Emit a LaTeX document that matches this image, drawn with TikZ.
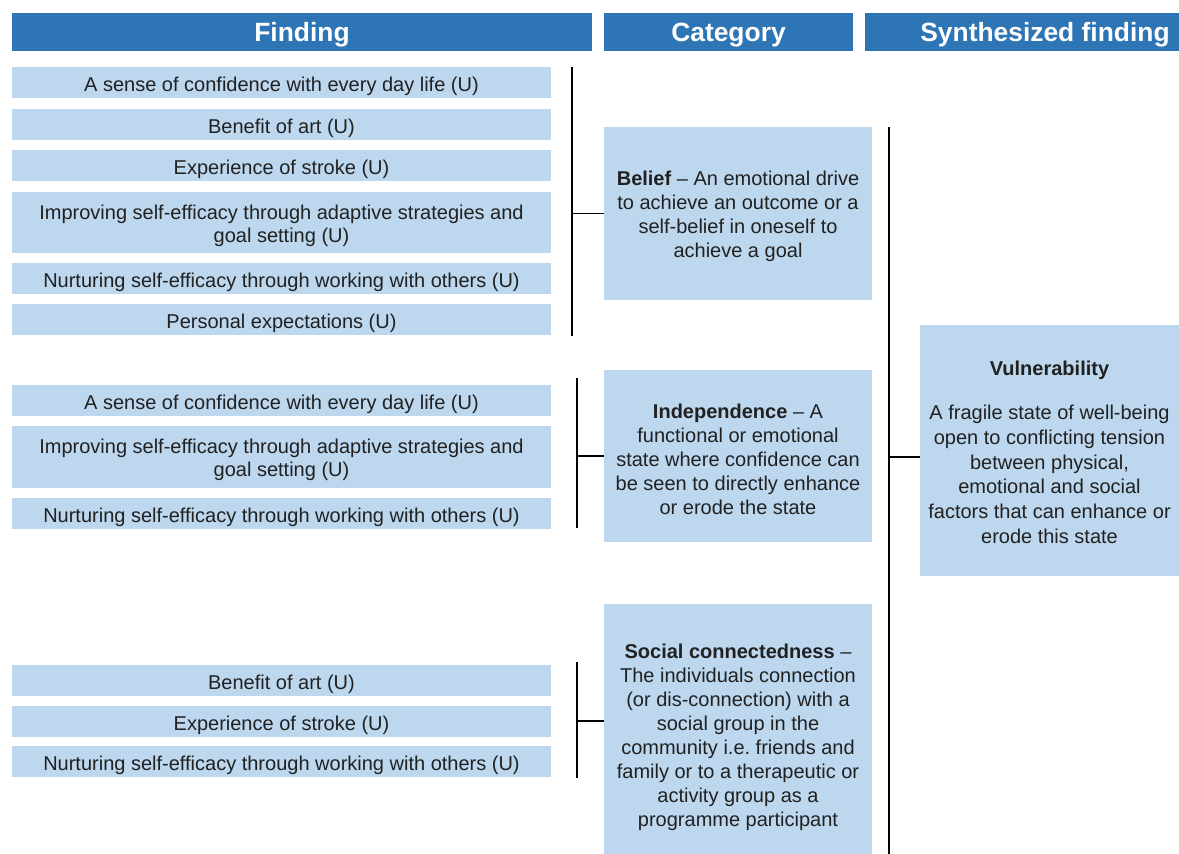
\documentclass[tikz,border=0pt]{standalone}
\usepackage{fontspec}
\setmainfont{Liberation Sans}
\usepackage{tikz}
\usetikzlibrary{positioning}
\definecolor{headblue}{RGB}{46,117,182}
\definecolor{boxblue}{RGB}{189,215,238}
\definecolor{txtgray}{RGB}{33,33,33}
\newcommand{\topgap}[1]{\rule{0pt}{#1}}

\begin{document}
\begin{tikzpicture}[x=0.5pt, y=-0.5pt,
    head/.style={fill=headblue, text=white, inner sep=0pt, minimum height=19pt,
        font=\fontsize{13.2}{15}\selectfont\bfseries,
        execute at begin node={\rule{0pt}{12pt}}},
    fbox/.style={fill=boxblue, text=txtgray, inner sep=0pt, minimum width=269.5pt,
        minimum height=15.5pt, align=center, font=\fontsize{10}{11.5}\selectfont,
        execute at begin node={\rule{0pt}{10.6pt}}},
    cbox/.style={fill=boxblue, text=txtgray, inner sep=0pt, minimum width=134pt,
        align=center, font=\fontsize{10}{12}\selectfont},
    link/.style={line width=0.65pt}]
    \useasboundingbox (0,0) rectangle (1179,854);
    \clip (0,0) rectangle (1179,854);
    \fill[white] (0,0) rectangle (1179,854);

    \node[head, minimum width=290pt] (find) at (302,32) {Finding};
    \node[head, minimum width=124.5pt] (cat) at (728.5,32) {Category};
    \node[head, minimum width=180pt] (syn) at (1045,32) {Synthesized finding};

    \node[fbox] (f1) at (281.5,83) {A sense of confidence with every day life (U)};
    \node[fbox] (f2) at (281.5,125) {Benefit of art (U)};
    \node[fbox] (f3) at (281.5,166) {Experience of stroke (U)};
    \node[fbox, minimum height=30.5pt] (f4) at (281.5,222.5) {\topgap{10.3pt}Improving self-efficacy through adaptive strategies and\\goal setting (U)};
    \node[fbox] (f5) at (281.5,279) {Nurturing self-efficacy through working with others (U)};
    \node[fbox] (f6) at (281.5,320) {Personal expectations (U)};

    \node[fbox] (f7) at (281.5,400.5) {A sense of confidence with every day life (U)};
    \node[fbox, minimum height=31pt] (f8) at (281.5,457) {\topgap{10.3pt}Improving self-efficacy through adaptive strategies and\\goal setting (U)};
    \node[fbox] (f9) at (281.5,514) {Nurturing self-efficacy through working with others (U)};

    \node[fbox] (f10) at (281.5,680.5) {Benefit of art (U)};
    \node[fbox] (f11) at (281.5,721.5) {Experience of stroke (U)};
    \node[fbox] (f12) at (281.5,762) {Nurturing self-efficacy through working with others (U)};

    \node[cbox, minimum height=86.5pt] (bel) at (738,213.5) {\topgap{10.3pt}\textbf{Belief} -- An emotional drive\\to achieve an outcome or a\\self-belief in oneself to\\achieve a goal};
    \node[cbox, minimum height=86pt] (ind) at (738,456) {\topgap{10.3pt}\textbf{Independence} -- A\\functional or emotional\\state where confidence can\\be seen to directly enhance\\or erode the state};
    \node[cbox, minimum height=131pt] (soc) at (738,735) {\topgap{10pt}\textbf{Social connectedness} --\\The individuals connection\\(or dis-connection) with a\\social group in the\\community i.e.\ friends and\\family or to a therapeutic or\\activity group as a\\programme participant};

    \node[cbox, minimum width=129.5pt, minimum height=125.5pt, font=\fontsize{10}{12.4}\selectfont] (vul) at (1049.5,450.5) {\topgap{9.3pt}\textbf{Vulnerability}\\[9.5pt]A fragile state of well-being\\open to conflicting tension\\between physical,\\emotional and social\\factors that can enhance or\\erode this state};

    \coordinate (g1t) at (572,67);
    \coordinate (g1b) at (572,336);
    \coordinate (g2t) at (577,378);
    \coordinate (g2b) at (577,528);
    \coordinate (g3t) at (577,662);
    \coordinate (g3b) at (577,778);
    \coordinate (g3m) at (577,721);
    \coordinate (st) at (889,127);
    \coordinate (sb) at (889,870);
    \coordinate (sm) at (889,457);

    \draw[link]
    (g1t) -- (g1b)
    (g1t |- bel.west) -- (bel.west)
    (g2t) -- (g2b)
    (g2t |- ind.west) -- (ind.west)
    (g3t) -- (g3b)
    (g3m) -- (g3m -| soc.west)
    (st) -- (sb)
    (sm) -- (sm -| vul.west);
\end{tikzpicture}
\end{document}
